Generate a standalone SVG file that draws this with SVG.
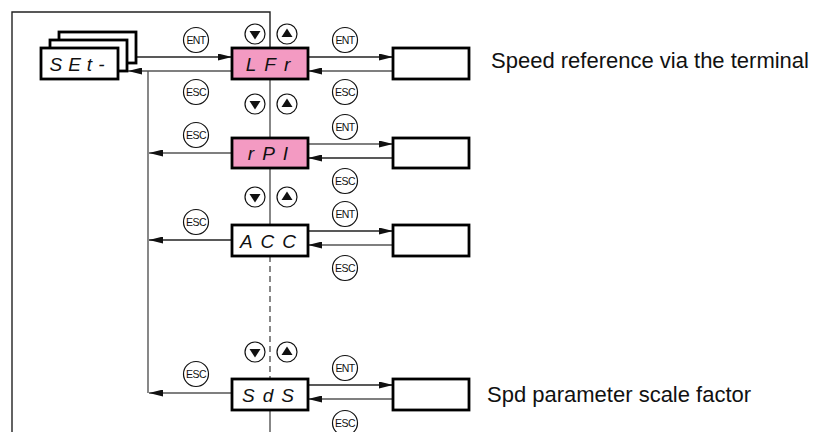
<svg xmlns="http://www.w3.org/2000/svg" width="822" height="432" viewBox="0 0 822 432">
<style>
.box{fill:#fff;stroke:#000;stroke-width:2.8}
.pink{fill:#f39ac2;stroke:#000;stroke-width:2.8}
.seg{font-family:"Liberation Sans",Arial,sans-serif;font-style:italic;font-size:19px;fill:#111;text-anchor:middle}
.ln{fill:none;stroke:#555;stroke-width:1.4}
.lk{fill:none;stroke:#222;stroke-width:1.4}
.key{fill:#fff;stroke:#111;stroke-width:1.2}
.kt{font-family:"Liberation Sans",Arial,sans-serif;font-size:10.5px;fill:#111;text-anchor:middle;letter-spacing:-0.6px}
.lbl{font-family:"Liberation Sans",Arial,sans-serif;font-size:22px;fill:#111}
</style>
<defs>
<marker id="ah" viewBox="0 0 14 7" refX="14" refY="3.5" markerWidth="14" markerHeight="7" orient="auto" markerUnits="userSpaceOnUse"><path d="M0,0 L14,3.5 L0,7 z" fill="#111"/></marker>
<g id="kdown"><circle r="10" class="key"/><path d="M-5.5,-3 L5.5,-3 L0,5.5 z" fill="#111"/></g>
<g id="kup"><circle r="10" class="key"/><path d="M-5.5,3 L5.5,3 L0,-5.5 z" fill="#111"/></g>
</defs>
<rect width="822" height="432" fill="#fff"/>

<g id="connectors">
<path class="lk" d="M12,432 L12,12 L270,12 L270,48"/>
<path class="ln" d="M270,79 L270,138 M270,168 L270,225 M270,410 L270,432"/>
<path class="ln" d="M270,256 L270,379" stroke-dasharray="6,4"/>
<path class="lk" d="M119,57 L232,57" marker-end="url(#ah)"/>
<path class="ln" d="M232,71 L128,71" marker-end="url(#ah)"/>
<path class="ln" d="M148,71 L148,393"/>
<path class="ln" d="M232,153 L149,153" marker-end="url(#ah)"/>
<path class="lk" d="M232,240 L149,240" marker-end="url(#ah)"/>
<path class="ln" d="M232,393 L149,393" marker-end="url(#ah)"/>
<path class="lk" d="M308,57 L393,57" marker-end="url(#ah)"/>
<path class="ln" d="M393,71 L308,71" marker-end="url(#ah)"/>
<path class="ln" d="M308,144 L393,144" marker-end="url(#ah)"/>
<path class="lk" d="M393,158 L308,158" marker-end="url(#ah)"/>
<path class="lk" d="M308,231 L393,231" marker-end="url(#ah)"/>
<path class="ln" d="M393,245 L308,245" marker-end="url(#ah)"/>
<path class="lk" d="M308,385 L393,385" marker-end="url(#ah)"/>
<path class="ln" d="M393,399 L308,399" marker-end="url(#ah)"/>
</g>

<g id="set">
<rect class="box" x="59" y="32" width="77" height="31"/>
<rect class="box" x="50" y="40" width="77" height="31"/>
<rect class="box" x="41" y="48" width="77" height="31"/>
<text class="seg" x="80" y="71" letter-spacing="6">SEt-</text>
</g>
<g id="lfr">
<rect class="pink" x="232" y="48" width="76" height="31"/>
<text class="seg" x="272" y="71" letter-spacing="8">LFr</text>
</g>
<g id="lfr-value"><rect class="box" x="393" y="48" width="76" height="31"/></g>
<g id="rpi">
<rect class="pink" x="232" y="138" width="76" height="30"/>
<text class="seg" x="272" y="160" letter-spacing="8">rPI</text>
</g>
<g id="rpi-value"><rect class="box" x="393" y="138" width="76" height="30"/></g>
<g id="acc">
<rect class="box" x="232" y="225" width="76" height="31"/>
<text class="seg" x="272" y="248" letter-spacing="8">ACC</text>
</g>
<g id="acc-value"><rect class="box" x="393" y="225" width="76" height="31"/></g>
<g id="sds">
<rect class="box" x="232" y="379" width="76" height="31"/>
<text class="seg" x="272" y="402" letter-spacing="8">SdS</text>
</g>
<g id="sds-value"><rect class="box" x="393" y="379" width="76" height="31"/></g>

<g id="keys">
<g transform="translate(196,40)"><circle r="12.5" class="key"/><text class="kt" y="4">ENT</text></g>
<g transform="translate(196,92)"><circle r="12.5" class="key"/><text class="kt" y="4">ESC</text></g>
<g transform="translate(196,135)"><circle r="12.5" class="key"/><text class="kt" y="4">ESC</text></g>
<g transform="translate(196,222)"><circle r="12.5" class="key"/><text class="kt" y="4">ESC</text></g>
<g transform="translate(196,374)"><circle r="12.5" class="key"/><text class="kt" y="4">ESC</text></g>
<g transform="translate(345,40)"><circle r="12.5" class="key"/><text class="kt" y="4">ENT</text></g>
<g transform="translate(345,92)"><circle r="12.5" class="key"/><text class="kt" y="4">ESC</text></g>
<g transform="translate(345,127)"><circle r="12.5" class="key"/><text class="kt" y="4">ENT</text></g>
<g transform="translate(345,181)"><circle r="12.5" class="key"/><text class="kt" y="4">ESC</text></g>
<g transform="translate(345,214)"><circle r="12.5" class="key"/><text class="kt" y="4">ENT</text></g>
<g transform="translate(345,268)"><circle r="12.5" class="key"/><text class="kt" y="4">ESC</text></g>
<g transform="translate(345,368)"><circle r="12.5" class="key"/><text class="kt" y="4">ENT</text></g>
<g transform="translate(345,423)"><circle r="12.5" class="key"/><text class="kt" y="4">ESC</text></g>
<use href="#kdown" x="255" y="34"/><use href="#kup" x="287" y="34"/>
<use href="#kdown" x="255" y="104"/><use href="#kup" x="287" y="104"/>
<use href="#kdown" x="255" y="197"/><use href="#kup" x="287" y="197"/>
<use href="#kdown" x="255" y="352"/><use href="#kup" x="287" y="352"/>
</g>

<g id="labels">
<text class="lbl" x="491" y="68">Speed reference via the terminal</text>
<text class="lbl" x="487" y="402">Spd parameter scale factor</text>
</g>
</svg>
